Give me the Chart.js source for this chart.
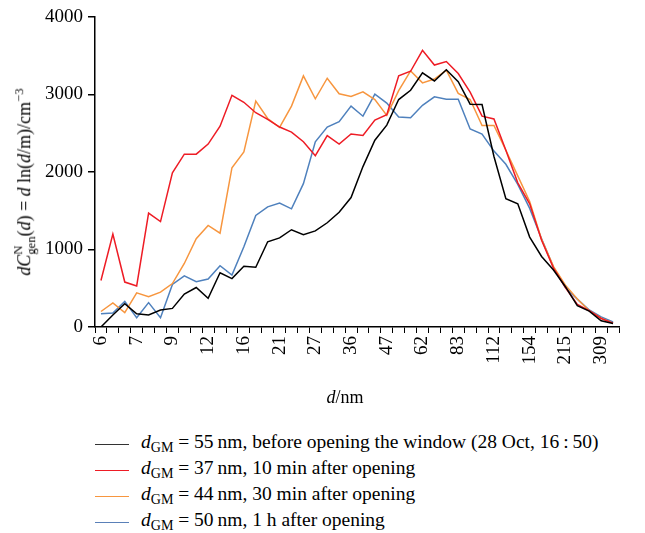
<!DOCTYPE html>
<html>
<head>
<meta charset="utf-8">
<script src="https://cdn.jsdelivr.net/npm/chart.js@4.4.1/dist/chart.umd.min.js"></script>
<style>
  body { margin: 0; background: #fff; }
  #wrap { position: relative; width: 645px; height: 533px; font-family: "Liberation Serif", serif; color: #000; }
  #chart { position: absolute; left: 0; top: 0; }
  #ytitle { position: absolute; left: 25px; top: 182px; transform: translate(-50%, -50%) rotate(-90deg); white-space: nowrap; font-size: 18px; }
  #xtitle { position: absolute; left: 345px; top: 397px; transform: translate(-50%, -50%); font-size: 18px; }
  .ss { display: inline-block; vertical-align: -0.4em; font-size: 0.7em; line-height: 1; text-align: left; }
  #legend { position: absolute; left: 95px; top: 431px; font-size: 19.5px; }
  .row { height: 26px; display: flex; align-items: center; white-space: nowrap; }
  .swatch { width: 34px; height: 0; border-top: 1.5px solid; margin-right: 12px; }
  sub { font-size: 0.72em; vertical-align: -0.3em; }
</style>
</head>
<body>
<div id="wrap">
  <canvas id="chart" width="645" height="410"></canvas>
  <div id="ytitle"><i>d</i><i>C</i><span class="ss">N<br>gen</span>(<i>d</i>) = <i>d</i> ln(<i>d</i>/m)/cm<sup style="font-size:0.7em">&minus;3</sup></div>
  <div id="xtitle"><i>d</i>/nm</div>
  <div id="legend"></div>
</div>
<script>
// particle diameter classes (nm), every third one is labelled on the axis
var diameters = [6, 6.3, 6.7, 7, 7.6, 8.3, 9, 9.9, 10.9, 12, 13.3, 14.6, 16, 17.6, 19.3,
                 21, 23, 25, 27, 30, 33, 36, 39, 43, 47, 51, 56, 62, 68, 75, 83, 91, 101,
                 112, 124, 138, 154, 172, 192, 215, 242, 274, 309, 350];

var before = [0, 155, 300, 170, 155, 220, 240, 425, 510, 370, 700, 625, 785, 770, 1100,
              1150, 1255, 1190, 1240, 1345, 1480, 1670, 2070, 2410, 2605, 2935, 3055, 3280,
              3175, 3320, 3165, 2875, 2870, 2200, 1655, 1590, 1160, 910, 735, 520, 275, 205, 80, 45];
var after10min = [600, 1200, 580, 530, 1470, 1360, 1990, 2230, 2230, 2360, 2590, 2990, 2900, 2765,
                  2680, 2580, 2515, 2390, 2210, 2470, 2360, 2490, 2470, 2670, 2740, 3240, 3300, 3570,
                  3380, 3425, 3270, 3030, 2720, 2685, 2280, 1860, 1590, 1120, 760, 510, 290, 210, 110, 50];
var after30min = [200, 310, 185, 440, 390, 450, 560, 820, 1140, 1310, 1210, 2055, 2260, 2915,
                  2690, 2575, 2850, 3240, 2945, 3210, 3010, 2975, 3035, 2935, 2730, 3050, 3305, 3150,
                  3200, 3315, 3015, 2935, 2600, 2600, 2280, 1950, 1620, 1130, 780, 540, 360, 210, 115, 50];
var after1h = [170, 180, 330, 120, 315, 120, 550, 660, 585, 620, 790, 670, 1035, 1440,
               1550, 1600, 1525, 1850, 2390, 2580, 2650, 2850, 2720, 3005, 2890, 2710, 2700, 2860,
               2970, 2940, 2940, 2555, 2490, 2270, 2100, 1840, 1530, 1140, 770, 510, 360, 220, 130, 65];

var dgm = [55, 37, 44, 50];
var notes = ['before opening the window (28 Oct, 16\u2009:\u200950)', '10 min after opening',
             '30 min after opening', '1 h after opening'];
var colors = ['#000000', '#ee1c25', '#f7963f', '#4f81bd'];
var legendColors = ['#333333', '#ee1c25', '#f7963f', '#5a80b8'];
var yTicks = [0, 1000, 2000, 3000, 4000];

var seriesList = [before, after10min, after30min, after1h];
var datasets = [];
for (var i = 0; i < seriesList.length; i++) {
    datasets.push({
        label: 'dGM = ' + dgm[i] + ' nm, ' + notes[i],
        data: seriesList[i],
        borderColor: colors[i],
        borderWidth: 1.5,
        pointRadius: 0,
        tension: 0,
        fill: false
    });
}

var tickFont = { family: 'Liberation Serif', size: 19 };

function drawChart() {
    new Chart(document.getElementById('chart').getContext('2d'), {
        type: 'line',
        data: { labels: diameters, datasets: datasets },
        options: {
            responsive: false,
            animation: false,
            devicePixelRatio: 1,
            layout: { padding: { left: 0, right: 26, top: 17, bottom: 0 } },
            plugins: { legend: { display: false }, tooltip: { enabled: false } },
            scales: {
                x: {
                    type: 'category',
                    offset: true,
                    grid: { display: true, drawOnChartArea: false, offset: true, tickLength: 6, color: '#000', lineWidth: 1 },
                    border: { color: '#000', width: 1.5 },
                    ticks: {
                        autoSkip: false, maxRotation: 90, minRotation: 90, padding: 3,
                        color: '#000', font: tickFont,
                        callback: function(v, idx) { return idx % 3 === 0 ? String(diameters[idx]) : ''; }
                    },
                    afterFit: function(scale) { scale.height = 83; }
                },
                y: {
                    min: 0, max: 4000,
                    grid: { display: true, drawOnChartArea: false, tickLength: 7, color: '#000', lineWidth: 1.5 },
                    border: { color: '#000', width: 1.5 },
                    afterBuildTicks: function(scale) { scale.ticks = yTicks.map(function(v) { return { value: v }; }); },
                    ticks: { color: '#000', font: tickFont, padding: 5,
                             callback: function(v) { return String(v); } },
                    afterFit: function(scale) { scale.width = 95; }
                }
            }
        }
    });
}

var legend = document.getElementById('legend');
for (var j = 0; j < dgm.length; j++) {
    var row = document.createElement('div');
    row.className = 'row';
    row.innerHTML = '<span class="swatch" style="border-color:' + legendColors[j] + '"></span>' +
        '<span><i>d</i><sub>GM</sub> = ' + dgm[j] + '\u2009nm, ' + notes[j] + '</span>';
    legend.appendChild(row);
}

document.fonts.load('19px "Liberation Serif"').then(drawChart, drawChart);
</script>
</body>
</html>
